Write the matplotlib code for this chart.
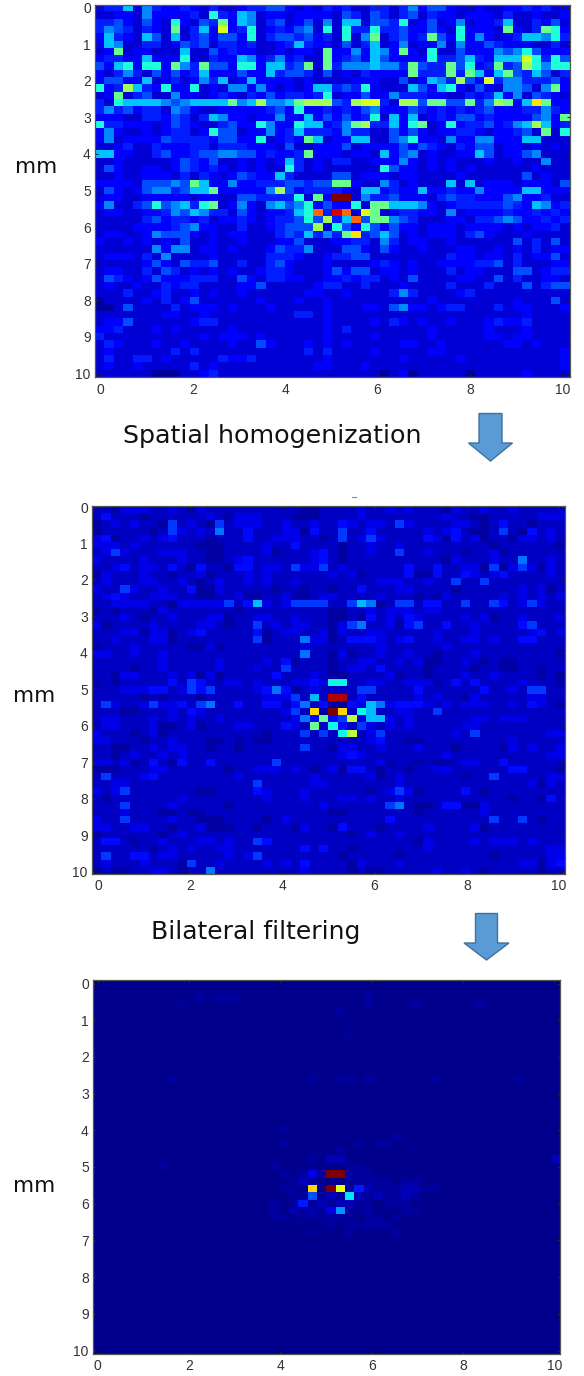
import matplotlib
matplotlib.use("Agg")
import matplotlib.pyplot as plt
import numpy as np
from matplotlib.patches import Polygon

W, H = 584, 1376

# colour level code -> normalised intensity (jet scale), one table per panel
LEVELS_NOISY = {'0': 0.03, '1': 0.075, '2': 0.115, '3': 0.155, '4': 0.20, '5': 0.26, '6': 0.32,
                '7': 0.385, '8': 0.48, '9': 0.55, 'a': 0.62, 'b': 0.67, 'c': 0.80, 'd': 0.92, 'e': 1.0}
LEVELS_HOMOG = {'0': 0.035, '1': 0.06, '2': 0.09, '3': 0.135, '4': 0.18, '5': 0.24, '6': 0.31,
                '7': 0.37, '8': 0.48, '9': 0.58, 'a': 0.62, 'b': 0.68, 'c': 0.80, 'd': 0.95, 'e': 1.0}
LEVELS_FILTERED = {'.': 0.028, '0': 0.015, '1': 0.05, '2': 0.09, '3': 0.15, '4': 0.20, '5': 0.27, '6': 0.35,
                   'a': 0.63, 'b': 0.68, 'e': 1.0}

raw_left = """2336153223213112334421213
1122152222317326512212222
3342142172143826513412415
3543132181362a23712324517
2632164161342442713443423
2651133124341332311236322
1281221116114232211212218
2332262227113226523523118
4267277285384427726634818
2135314242362224226344314
2442261231253612622221211
7239632722712155252121266
1281341152212321324233237
3176666545666685695568999
3534233154211222223427223
2221133243136522122522624
7332221243211342275227662
2521121233127441225236333
2512222433332442271232861
1123113222331333222141122
6622113422344554423223822
1121111124324112121263121
1421122124323212121173121
1121122213132124322631111
2222144454862252233344344
1421245534668222225942333
1221122222122114433337182
2511347456378125215645724
12211223546533142122367c3
1111134233231223212334749
1111222234522113112344491
1221125444212122111343635
2112121214112112111224111
1111115255122121112433511
1222131511112111113332112
1111124214334113113421112
1221131431212121123321112
1432124222333114213322112
1211211323311112241111123
1113112311212112111111221
0111121312411111121112112
0014111131222121112111112
1111111221121111111113312
1224111111233111111111112
2231112121111121111111112
3111111111121222121111112
1321112112111121142111212
1211111131311111111111313
1311331211111322311111112
1211211111312111111111122
1111110001123111111111111""".split()

raw_right = """2311331352442112112232312
1431431341322122213112112
1661443712412512236113241
1733733422421722218213872
1715813423842725212366573
1413612512251522432221131
2252652821711422254574222
23426422227334632666a7374
3555655384338472383497577
1213222283338386268436413
1122211412653942a35533342
3437211164267214215541582
1224225333221132362514321
439aa3199488448359826b822
2324522243232323422233532
2423716261232442322224528
3589336278127233423569623
2533114242122332122341817
2266114572215225522266111
2412222424321324412212121
2122162451211226412245111
3311222521212111211211511
1111174221212121111112111
4412221221111211111141211
8821153121116161222122214
3216623226223225222266222
ee15334222134332224522311
2271886665212333334326523
dc1a812332215122223223232
36c4885431112213345422323
7427424221222122221212231
38b3464121222134211121111
2233153122112111111413141
1442142112111221121213122
3344111111113221221312241
1111232121122223341311122
4244122121113122111441233
2323312141111221141311221
3113111211113111311141344
1211113531111231111111111
1111111111211111111211141
1112214522123311131221112
1111111111111111111121111
1111213212112111232231111
1311111111211111211121111
1111211111211111221221111
1211111221121111112212111
1111211111221111111111112
1111111211111211111111112
1112111111111111111111112
1111101201111101111121111""".split()

homog_left = """1102221121021111111111001
1311101111112102221110001
0121211041210412221121121
0111110142121511311122031
2301121231110111311222110
2221211111100011112113111
1242111222110011112011123
2111121112110012311111123
1123122131031103312214224
0211121101120111212111111
1211122112101211212112111
2114211211300211111011011
1232112221100112001120012
1122221102222241362124444
0101110211111110111111111
1112101121112201122112111
2011112111122101141212211
1112202201231111130122112
1121112201111111140111522
0111211111002011111111211
2211211211111111111111511
1111111211111211112130111
1111011211111211121141111
1102211121202011111311121
0101111131431122121112232
1112223312434111123530121
1111101011101111112224161
1421124223145113113313513
11100111213211111111241b0
1221112121211211111112538
1221112001201112211132181
2111012011111111110111414
2211101121110010100111111
1100112122110110111111411
1101211212111111111111111
2212013103113111111411111
0001112211111101122212101
1411123111111112111111121
1122111111111111141111122
2124111111100111132111211
1011111112111111112111211
1114111121111101111111112
1112111001001111111111111
2114111121100011110121111
2211221101120001101110211
0111111012111111111111111
1331011211122121143111111
1111110121211221111111313
1411331221111121241111111
1211121110411211112121311
0100112210115111111111211""".split()

homog_right = """1112112121110211211211111
1112111111112110011111222
1321221421111221013110111
1411311111212310014103121
1412421111320312011022121
1011211211111111101111110
1011211411211101120111111
1011111111110211121151121
1211111131131122040242021
2120111130031132123111121
1111122211211411411111111
0113111221111011111121201
2111121110102111112121212
1146501441331141143124211
0011212221221111111111111
0010312132111121201121112
0245112034113112111134111
0211221111121112111112312
0133321231121122121133111
1111121111112111111111111
0201121121101112111111110
0112211212001121010011111
0122131111011110110011011
0011112011011121121111010
7711221122201313111121110
1114411113111111311214411
dd13111112121102111112211
0032652333212122211213210
eb17611221141111111111111
3492662121111112212221111
7314212121111122111111111
1791241111111214111111122
1111231100111111111211111
0221121112111011110212112
1232111111112111111111122
1111120110100122113111111
2033101101122111111331110
1111201211111101141111122
1111111211111111111112021
1111012420111131011111111
1221211211111111111011031
1111114510013300211111111
0011111110111111211111111
1111113111111111141141011
0311101111211112011111111
1101211211111111111111111
1111111110211112122212111
1101111111211111111111122
1011111011111111101111122
1102111211111111111122023
1101001111121121011111011""".split()

bilateral = """00000000000000000000000000000000000000000000000000
00000000000000000000000000000000000000000000000000
00000000000.0...0000000000000.00000000000000000000
000000000.0000000000000000000.0000.000000.00000000
00000000000000000000000000.00000000000000000000000
00000000000000000000000000000000000000000000000000
00000000000000000000000000000000000000000000000000
000000000000000000000000000.0000000000000000000000
00000000000000000000000000000000000000000000000000
00000000000000000000000000000000000000000000000000
00000000000000000000000000000000000000000000000000
00000000000000000000000000000000000000000000000000
00000000000000000000000000000000000000000000000000
00000000.00000000000000.00..0.000000.00000000.0000
00000000000000000000000000000000000000000000000000
00000000000000000000000000000000000000000000000000
00000000000000000000000000000000000000000000000000
00000000000000000000000000000000000000000000000000
00000000000000000000000000000000000000000000000000
00000000000000000000000000000000000000000000000000
00000000000000000000.00000000000000000000000000000
00000000000000000000000000000000.00000000000000000
00000000000000000000.0000000.0..000000000000000000
00000000000000000000000000.0000000.000000000000000
00000000000000000000000.0110000000000000000000000
0000000.00000000000.0000000..000000000000000000000
00000000000000000000.0.2.ee...00000000000000000000
000000000000000000000.1.000.....0..000000000000000
00000000000000000000..0b0ea.31...11..0000000000000
000000000000000000000..4.1.61.1..1.000000000000000
0000000000000000000.0.3.1.11..0...0000000000000000
0000000000000000000.01.1.25...000..000000000000000
0000000000000000000..0......0..0.00000000000000000
0000000000000000000000000.0.....000000000000000000
00000000000000000000000.000.0000.00000000000000000
00000000000000000000000000000000000000000000000000
00000000000000000000000000000000000000000000000000
00000000000000000000000000000000000000000000000000
00000000000000000000000000000000000000000000000000
00000000000000000000000000000000000000000000000000
00000000000000000000000000000000000000000000000000
00000000000000000000000000000000000000000000000000
00000000000000000000000000000000000000000000000000
00000000000000000000000000000000000000000000000000
00000000000000000000000000000000000000000000000000
00000000000000000000000000000000000000000000000000
00000000000000000000000000000000000000000000000000
00000000000000000000000000000000000000000000000000
00000000000000000000000000000000000000000000000000
00000000000000000000000000000000000000000000000000
00000000000000000000000000000000000000000000000000""".split()

x_ticks = [0, 2, 4, 6, 8, 10]
y_ticks = [0, 1, 2, 3, 4, 5, 6, 7, 8, 9, 10]
CAPTION_1 = "Spatial homogenization"
CAPTION_2 = "Bilateral filtering"
AXIS_LABEL = "mm"


def decode(rows, levels, width=50):
    return np.array([[levels[ch] for ch in (r + '1' * width)[:width]] for r in rows])


def join(left, right, levels):
    return decode([a[:25].ljust(25, '1') + b[:25].ljust(25, '1') for a, b in zip(left, right)], levels)


noisy = join(raw_left, raw_right, LEVELS_NOISY)
homog = join(homog_left, homog_right, LEVELS_HOMOG)
filtered = decode(bilateral, LEVELS_FILTERED)

fig = plt.figure(figsize=(W / 100, H / 100), dpi=100, facecolor="white")


def fx(px):
    return px / W


def fy(py):
    return 1 - py / H


def panel(data, left, right, top, bottom, x0, xscale, y0, yscale, xpad):
    ax = fig.add_axes([fx(left), fy(bottom), (right - left) / W, (bottom - top) / H])
    xlim = ((left - x0) / xscale, (right - x0) / xscale)
    ylim = ((bottom - y0) / yscale, (top - y0) / yscale)
    ax.imshow(data, cmap="jet", vmin=0, vmax=1, aspect="auto", interpolation="nearest",
              extent=(xlim[0], xlim[1], ylim[0], ylim[1]))
    ax.set_xlim(*xlim)
    ax.set_ylim(*ylim)
    ax.set_xticks(x_ticks)
    ax.set_yticks(y_ticks)
    ax.tick_params(direction="in", length=2.5, width=0.8, top=True, right=True, color="#222222",
                   labelsize=10, labelcolor="#333333", pad=3)
    ax.tick_params(axis="x", pad=xpad)
    for lab in ax.get_xticklabels() + ax.get_yticklabels():
        lab.set_family("Liberation Sans")
    for s in ax.spines.values():
        s.set_color("#555555")
        s.set_linewidth(0.9)
    return ax


panel(noisy, 95, 570, 4.5, 377, 100.4, 46.2, 7.5, 36.6, 4.5)
panel(homog, 92, 565, 506, 874, 98, 46.1, 507, 36.45, 3.5)
panel(filtered, 93, 560, 979.5, 1354, 97.5, 45.7, 983.5, 36.7, 3.5)


def label(px, py, text, target_width):
    t = fig.text(fx(px), fy(py), text, fontsize=14, family="DejaVu Sans", color="#111111",
                 ha="left", va="center")
    width = t.get_window_extent(fig.canvas.get_renderer()).width
    t.set_fontsize(14 * target_width / width)


label(15, 167, AXIS_LABEL, 42)
label(13, 696, AXIS_LABEL, 42)
label(13, 1186, AXIS_LABEL, 42)
label(123, 436, CAPTION_1, 300)
label(151, 932, CAPTION_2, 210)


def arrow(xc, half_shaft, half_head, y_top, y_neck, y_tip):
    pts = [(xc - half_shaft, y_top), (xc + half_shaft, y_top), (xc + half_shaft, y_neck),
           (xc + half_head, y_neck), (xc, y_tip), (xc - half_head, y_neck), (xc - half_shaft, y_neck)]
    fig.add_artist(Polygon([(fx(a), fy(b)) for a, b in pts], closed=True, transform=fig.transFigure,
                           facecolor="#5b9bd5", edgecolor="#41719c", linewidth=1.0))


arrow(490.5, 11.5, 22, 413.5, 443, 461)
arrow(486.5, 11, 22.5, 913.5, 943, 960)

fig.add_artist(plt.Line2D([fx(352), fx(356)], [fy(497), fy(497)], transform=fig.transFigure,
                          color="#888888", linewidth=0.8))

fig.savefig("out.png", dpi=100, facecolor="white")
